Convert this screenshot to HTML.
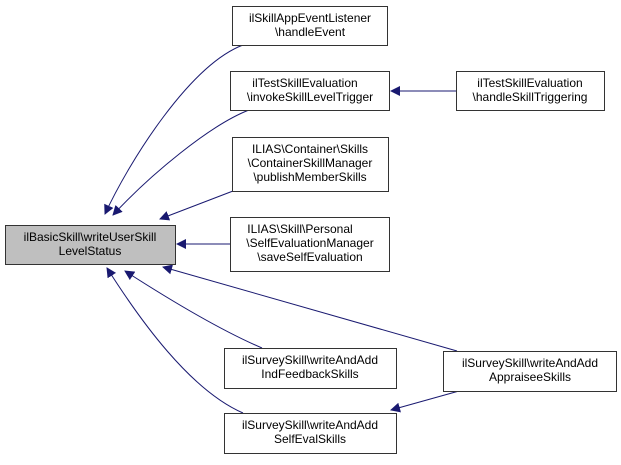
<!DOCTYPE html>
<html><head><style>body{margin:0;background:#fff}</style></head><body>
<svg width="621" height="460" xmlns="http://www.w3.org/2000/svg" font-family="Liberation Sans, Arial, sans-serif" font-size="12" text-anchor="middle">
<defs><marker id="a" viewBox="0 0 10 10" refX="9" refY="5" markerWidth="10" markerHeight="10" markerUnits="userSpaceOnUse" orient="auto"><path d="M0,0L10,5L0,10z" fill="#191970"/></marker></defs>
<g fill="none" stroke="#191970" stroke-width="1">
<path d="M243,45 C190,65 130,160 105,214" marker-end="url(#a)"/>
<path d="M249,110 C210,125 150,175 113,215" marker-end="url(#a)"/>
<path d="M233,191 L160,219" marker-end="url(#a)"/>
<path d="M230,244 L177,244" marker-end="url(#a)"/>
<path d="M456,91 L391,91" marker-end="url(#a)"/>
<path d="M262,348 C220,330 170,300 125,271" marker-end="url(#a)"/>
<path d="M243,413 C190,390 140,320 107,268" marker-end="url(#a)"/>
<path d="M457,351 L163,267" marker-end="url(#a)"/>
<path d="M459,391 L391,410" marker-end="url(#a)"/>
</g>
<g stroke="#333" stroke-width="1" fill="#fff">
<rect x="5.5" y="225.5" width="170" height="39" fill="#bfbfbf"/>
<rect x="232.5" y="6.5" width="155" height="39"/>
<rect x="230.5" y="71.5" width="159" height="39"/>
<rect x="232.5" y="137.5" width="156" height="54"/>
<rect x="230.5" y="217.5" width="159" height="54"/>
<rect x="456.5" y="71.5" width="148" height="39"/>
<rect x="224.5" y="348.5" width="172" height="40"/>
<rect x="224.5" y="413.5" width="172" height="40"/>
<rect x="443.5" y="351.5" width="173" height="40"/>
</g>
<g fill="#000">
<text x="90" y="241">ilBasicSkill\writeUserSkill</text><text x="90" y="255">LevelStatus</text>
<text x="310" y="22">ilSkillAppEventListener</text><text x="310" y="36">\handleEvent</text>
<text x="310" y="87" text-anchor="start" x2="0"></text>
<text x="305" y="87">ilTestSkillEvaluation</text><text x="310" y="101">\invokeSkillLevelTrigger</text>
<text x="310" y="153">ILIAS\Container\Skills</text><text x="310" y="167">\ContainerSkillManager</text><text x="310" y="181">\publishMemberSkills</text>
<text x="300" y="233">ILIAS\Skill\Personal</text><text x="310" y="247">\SelfEvaluationManager</text><text x="310" y="261">\saveSelfEvaluation</text>
<text x="530" y="87">ilTestSkillEvaluation</text><text x="530" y="101">\handleSkillTriggering</text>
<text x="310" y="364">ilSurveySkill\writeAndAdd</text><text x="310" y="378">IndFeedbackSkills</text>
<text x="310" y="429">ilSurveySkill\writeAndAdd</text><text x="310" y="443">SelfEvalSkills</text>
<text x="530" y="367">ilSurveySkill\writeAndAdd</text><text x="530" y="381">AppraiseeSkills</text>
</g>
</svg>
</body></html>
